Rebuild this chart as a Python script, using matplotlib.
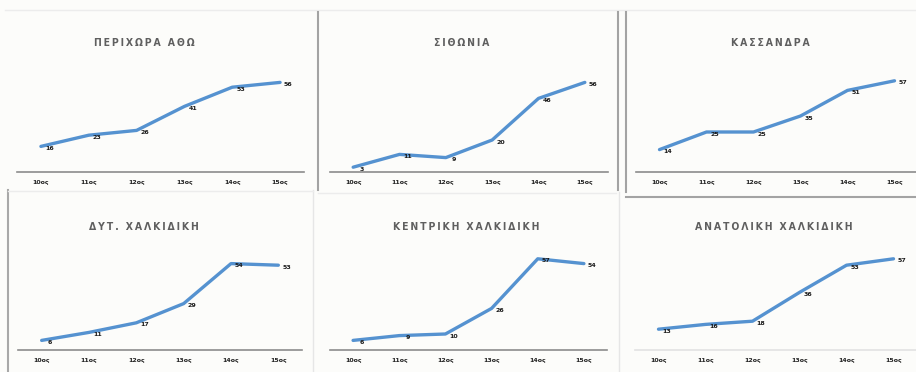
import matplotlib.pyplot as plt
from matplotlib.lines import Line2D

W, H = 916, 372

periods = ["10ος", "11ος", "12ος", "13ος", "14ος", "15ος"]

titles = ["ΠΕΡΙΧΩΡΑ ΑΘΩ", "ΣΙΘΩΝΙΑ", "ΚΑΣΣΑΝΔΡΑ",
          "ΔΥΤ. ΧΑΛΚΙΔΙΚΗ", "ΚΕΝΤΡΙΚΗ ΧΑΛΚΙΔΙΚΗ", "ΑΝΑΤΟΛΙΚΗ ΧΑΛΚΙΔΙΚΗ"]

athos = [16, 23, 26, 41, 53, 56]
sithonia = [3, 11, 9, 20, 46, 56]
kassandra = [14, 25, 25, 35, 51, 57]
west = [6, 11, 17, 29, 54, 53]
central = [6, 9, 10, 26, 57, 54]
east = [13, 16, 18, 36, 53, 57]
series = [athos, sithonia, kassandra, west, central, east]

# panel layout in pixels: plot left, plot right, axis baseline, title centre x, title y
panels = [
    (17, 304, 172, 144, 43),
    (330, 608, 172, 462, 43),
    (636, 918, 172, 770, 43),
    (18, 302, 350, 144, 227),
    (330, 607, 350, 466, 227),
    (635, 917, 350, 774, 227),
]
axis_colors = ["#8c8c8c"] * 5 + ["#e2e2e2"]

YMAX = 60
PX_PER_UNIT = 1.6
BLUE = "#5592D0"
FONTS = ["Liberation Sans Narrow", "DejaVu Sans"]

fig = plt.figure(figsize=(W / 100, H / 100), dpi=100)
fig.patch.set_facecolor("#fcfcfa")


def fx(px):
    return px / W


def fy(py):
    return 1 - py / H


for i, (vals, title, (x0, x1, base, tx, ty)) in enumerate(zip(series, titles, panels)):
    height = YMAX * PX_PER_UNIT
    ax = fig.add_axes([fx(x0), fy(base), (x1 - x0) / W, height / H])
    ax.set_facecolor("none")
    xs = range(len(vals))
    ax.plot(xs, vals, color=BLUE, lw=2.4, solid_capstyle="round")
    for x, v in zip(xs, vals):
        ax.annotate(str(v), (x, v), xytext=(6, -1.5), textcoords="offset points",
                    ha="center", va="center", fontsize=4.5, color="#1a1a1a",
                    fontweight="bold")
    ax.set_xlim(-0.5, 5.5)
    ax.set_ylim(0, YMAX)
    ax.set_yticks([])
    ax.set_xticks(list(xs))
    ax.set_xticklabels(periods, fontsize=4.5, color="#222222", fontweight="bold")
    ax.tick_params(axis="x", length=0, pad=6)
    for side in ["top", "right", "left"]:
        ax.spines[side].set_visible(False)
    ax.spines["bottom"].set_color(axis_colors[i])
    ax.spines["bottom"].set_linewidth(1.2)

    spaced = "\u2009".join(title)
    fig.text(fx(tx), fy(ty), spaced, ha="center", va="center", fontsize=7.5,
             color="#5f5f5f", family=FONTS, fontweight="bold",
             fontstretch="condensed")


def vline(x, y0, y1, color, lw=1.5):
    fig.add_artist(Line2D([fx(x), fx(x)], [fy(y0), fy(y1)], color=color, lw=lw))


def hline(y, x0, x1, color, lw=1.5):
    fig.add_artist(Line2D([fx(x0), fx(x1)], [fy(y), fy(y)], color=color, lw=lw))


# frame lines between the chart panels
hline(10, 5, 916, "#ececec", 1.0)
vline(318, 12, 190, "#a3a3a3")
vline(313, 190, 372, "#e6e6e6", 1.0)
vline(618, 12, 190, "#a3a3a3")
vline(626, 12, 192, "#a3a3a3")
vline(619, 192, 372, "#e6e6e6", 1.0)
hline(197, 626, 916, "#a3a3a3")
vline(8, 190, 372, "#a8a8a8")
hline(191, 8, 313, "#ececec", 1.0)
hline(193, 318, 616, "#ececec", 1.0)

fig.savefig("out.png", dpi=100, facecolor=fig.get_facecolor())
